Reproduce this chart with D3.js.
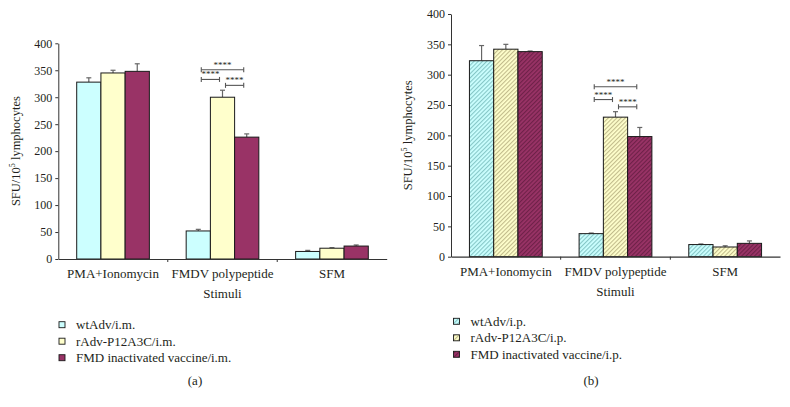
<!DOCTYPE html>
<html><head><meta charset="utf-8">
<script src="https://cdn.jsdelivr.net/npm/d3@7"></script>
<style>
body{margin:0;background:#fff;}
text{font-family:"Liberation Serif","DejaVu Serif",serif;fill:#231f20;}
</style></head>
<body><svg id="c" width="790" height="407"></svg>
<script>
const categories = ["PMA+Ionomycin","FMDV polypeptide","SFM"];
const yTicks = [0,50,100,150,200,250,300,350,400];
const seriesA = ["wtAdv/i.m.","rAdv-P12A3C/i.m.","FMD inactivated vaccine/i.m."];
const seriesB = ["wtAdv/i.p.","rAdv-P12A3C/i.p.","FMD inactivated vaccine/i.p."];
// values [series][category]
const valuesA = [[328,52,14],[345,300,20],[348,226,24]];
const errorsA = [[8,3,2],[5,13,1],[14,6,2]];
const valuesB = [[323,38,20],[342,230,16],[338,198,22]];
const errorsB = [[25,1,1],[8,9,2],[1,15,4]];
// significance brackets: [fromSeries, toSeries, yValue]
const sigA = [[0,2,351],[0,1,333],[1,2,322]];
const sigB = [[0,2,280],[0,1,259],[1,2,247]];
const sigLabel = "****";
const fills = ["#ccffff","#ffffcc","#993366"];
const hatchColors = ["#7fc2c2","#bcb585","#6a1f45"];

const svg = d3.select("#c");
const defs = svg.append("defs");
fills.forEach((f,i)=>{
  const p = defs.append("pattern").attr("id","h"+i).attr("patternUnits","userSpaceOnUse")
    .attr("width",3).attr("height",3).attr("patternTransform","rotate(45)");
  p.append("rect").attr("width",3).attr("height",3).attr("fill",f);
  p.append("line").attr("x1",0.6).attr("x2",0.6).attr("y1",0).attr("y2",3)
    .attr("stroke",hatchColors[i]).attr("stroke-width",1);
});

function panel(o){
  const g = svg.append("g");
  const x = d3.scaleBand().domain(categories).range([o.x0,o.x1]).paddingInner(0).paddingOuter(0);
  const xs = d3.scaleBand().domain([0,1,2]).range([0,x.bandwidth()]).paddingInner(0).paddingOuter(0.76);
  const y = d3.scaleLinear().domain([0,400]).range([o.y0,o.y1]);
  // bars
  o.values.forEach((vals,s)=>{
    vals.forEach((v,c)=>{
      const bx = x(categories[c])+xs(s), bw = xs.bandwidth();
      const e = o.errors[s][c];
      const cx = bx+bw/2;
      g.append("line").attr("x1",cx).attr("x2",cx).attr("y1",y(v)).attr("y2",y(v+e))
        .attr("stroke","#666").attr("stroke-width",1.2);
      g.append("line").attr("x1",cx-2.5).attr("x2",cx+2.5).attr("y1",y(v+e)).attr("y2",y(v+e))
        .attr("stroke","#666").attr("stroke-width",1.2);
      g.append("rect").attr("x",bx).attr("y",y(v)).attr("width",bw).attr("height",y(0)-y(v))
        .attr("fill",o.hatch?`url(#h${s})`:fills[s]).attr("stroke","#1a1a1a").attr("stroke-width",1);
    });
  });
  // axes
  const ya = g.append("g").attr("transform",`translate(${o.x0},0)`)
    .call(d3.axisLeft(y).tickValues(yTicks).tickSize(3).tickPadding(3).tickSizeOuter(0));
  ya.select(".domain").attr("stroke","#333");
  ya.selectAll(".tick line").attr("stroke","#333");
  ya.selectAll("text").style("font-size","12px").attr("fill","#231f20");
  const xa = g.append("g").attr("transform",`translate(0,${o.y0})`)
    .call(d3.axisBottom(x).tickSize(0).tickPadding(10).tickSizeOuter(0));
  xa.select(".domain").attr("stroke","#333").attr("stroke-width",1.2);
  xa.selectAll("text").style("font-size","13px").attr("fill","#231f20");
  categories.slice(1).forEach(c=>{
    g.append("line").attr("x1",x(c)).attr("x2",x(c)).attr("y1",o.y0).attr("y2",o.y0+3).attr("stroke","#333");
  });
  g.append("text").attr("x",(o.x0+o.x1)/2).attr("y",o.y0+39).attr("text-anchor","middle")
    .style("font-size","13px").text("Stimuli");
  // y label
  const yl = g.append("text").attr("transform",`translate(${o.ylx},${(o.y0+o.y1)/2}) rotate(-90)`)
    .attr("text-anchor","middle").style("font-size","12.5px");
  yl.append("tspan").text("SFU/10");
  yl.append("tspan").text("5").attr("dy",-5).style("font-size","8px");
  yl.append("tspan").text(" lymphocytes").attr("dy",5);
  // significance
  const cat = categories[1];
  o.sig.forEach(([a,b,v])=>{
    const xa1 = x(cat)+xs(a)+xs.bandwidth()/2+3, xb1 = x(cat)+xs(b)+xs.bandwidth()/2-3;
    const yy = y(v);
    g.append("line").attr("x1",xa1).attr("x2",xb1).attr("y1",yy).attr("y2",yy).attr("stroke","#555").attr("stroke-width",1.1);
    [xa1,xb1].forEach(xx=>g.append("line").attr("x1",xx).attr("x2",xx).attr("y1",yy-2.5).attr("y2",yy+2.5).attr("stroke","#555").attr("stroke-width",1.1));
    g.append("text").attr("x",(xa1+xb1)/2).attr("y",yy-2).attr("text-anchor","middle")
      .style("font-size","9px").attr("fill","#555").text(sigLabel);
  });
  // legend
  o.series.forEach((name,s)=>{
    const ly = o.ly + s*16.5;
    g.append("rect").attr("x",o.lx).attr("y",ly-3).attr("width",6).attr("height",6)
      .attr("fill",o.hatch?`url(#h${s})`:fills[s]).attr("stroke","#1a1a1a").attr("stroke-width",0.9);
    g.append("text").attr("x",o.lx+17).attr("y",ly+4.5).style("font-size","13px").text(name);
  });
  g.append("text").attr("x",o.capx).attr("y",385).attr("text-anchor","middle").style("font-size","13px").text(o.cap);
}

panel({x0:58.3,x1:386.7,y0:259,y1:43.3,values:valuesA,errors:errorsA,sig:sigA,series:seriesA,
  hatch:false,ylx:20,lx:59,ly:324.7,capx:195,cap:"(a)"});
panel({x0:451,x1:780,y0:256.7,y1:14,values:valuesB,errors:errorsB,sig:sigB,series:seriesB,
  hatch:true,ylx:412,lx:453.5,ly:321.3,capx:591,cap:"(b)"});
</script></body></html>
